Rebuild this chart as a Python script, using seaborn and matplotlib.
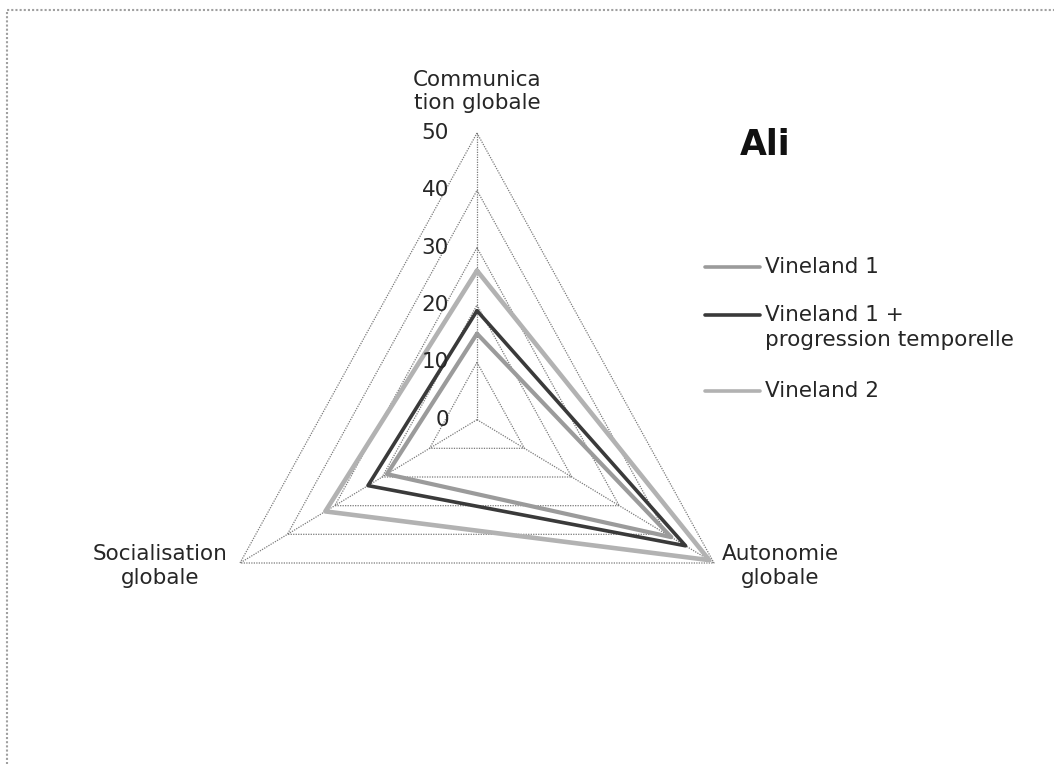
import numpy as np
import pandas as pd
import matplotlib
matplotlib.use("Agg")
import matplotlib.pyplot as plt
from matplotlib.lines import Line2D
from matplotlib.patches import Rectangle
import seaborn as sns

# Radar chart data: three Vineland scores per domain
categories = ["Communica\ntion globale", "Autonomie\nglobale", "Socialisation\nglobale"]
series_names = ["Vineland 1", "Vineland 1 +\nprogression temporelle", "Vineland 2"]
vineland1 = [15, 41, 19]
vineland1_prog = [19, 44, 23]
vineland2 = [26, 49, 32]
ticks = [0, 10, 20, 30, 40, 50]
title = "Ali"

sns.set_theme(style="white")
plt.rcParams["font.family"] = ["DejaVu Sans"]

FS = 15.5
TXT = "#262626"
W, H = 1054, 764
fig = plt.figure(figsize=(W / 100, H / 100), dpi=100)
vmax = ticks[-1]
half_w = vmax * np.cos(np.radians(30))
ax = fig.add_axes([240 / W, (H - 563) / H, 474 / W, 430 / H])

n = len(categories)
theta = np.radians(90 - 360 / n * np.arange(n))


def to_xy(vals):
    v = np.asarray(vals, dtype=float)
    v = np.append(v, v[0])
    t = np.append(theta, theta[0])
    return v * np.cos(t), v * np.sin(t)


# grid triangles and spokes
grid_color = "#7a7a7a"
for t in ticks[1:]:
    gx, gy = to_xy([t] * n)
    ax.plot(gx, gy, color=grid_color, lw=0.9, ls=(0, (1, 1)), clip_on=False, zorder=1)
for th in theta:
    ax.plot([0, vmax * np.cos(th)], [0, vmax * np.sin(th)], color=grid_color,
            lw=0.9, ls=(0, (1, 1)), clip_on=False, zorder=1)

# series polygons
frames = []
for name, vals in zip(series_names, [vineland1, vineland1_prog, vineland2]):
    x, y = to_xy(vals)
    frames.append(pd.DataFrame({"x": x, "y": y, "serie": name}))
df = pd.concat(frames, ignore_index=True)
palette = {series_names[0]: "#9b9b9b", series_names[1]: "#3a3a3a", series_names[2]: "#b2b2b2"}
widths = {series_names[0]: 3.0, series_names[1]: 2.6, series_names[2]: 3.3}
for name in [series_names[2], series_names[0], series_names[1]]:
    sub = df[df["serie"] == name]
    sns.lineplot(data=sub, x="x", y="y", sort=False, estimator=None, color=palette[name],
                 lw=widths[name], ax=ax, legend=False, clip_on=False, zorder=3)
ax.set_xlim(-half_w, half_w)
ax.set_ylim(-vmax / 2, vmax)
ax.axis("off")

# radial tick labels along the top spoke
for t in ticks:
    ax.annotate(str(t), (0, t), xytext=(-28, 0), textcoords="offset pixels",
                ha="right", va="center", fontsize=FS, color=TXT)

# category labels
txt_kw = dict(fontsize=FS, color=TXT, linespacing=1.2, multialignment="center",
              textcoords="offset pixels", annotation_clip=False)
ax.annotate(categories[0], (0, vmax), xytext=(0, 20), ha="center", va="bottom", **txt_kw)
ax.annotate(categories[1], (vmax * np.cos(theta[1]), vmax * np.sin(theta[1])),
            xytext=(8, -3), ha="left", va="center", **txt_kw)
ax.annotate(categories[2], (vmax * np.cos(theta[2]), vmax * np.sin(theta[2])),
            xytext=(-12, -3), ha="right", va="center", **txt_kw)

# title
fig.text(765 / W, 1 - 145 / H, title, fontsize=25, fontweight="bold", color="#111111",
         ha="center", va="center")

# legend
leg_rows = [267, 315, 391]
for name, yy in zip(series_names, leg_rows):
    fig.add_artist(Line2D([705 / W, 760 / W], [1 - yy / H, 1 - yy / H],
                          color=palette[name], lw=2.6, transform=fig.transFigure))
    first, *rest = name.split("\n")
    fig.text(765 / W, 1 - yy / H, first, fontsize=FS, color=TXT, ha="left", va="center")
    for k, line in enumerate(rest, start=1):
        fig.text(765 / W, 1 - (yy + 25 * k) / H, line, fontsize=FS, color=TXT,
                 ha="left", va="center")

# chart border
fig.add_artist(Rectangle((7 / W, -0.02), 1.05, 1 - 10 / H + 0.02, transform=fig.transFigure,
                         fill=False, ec="#a0a0a0", lw=1.5, ls=(0, (1, 1))))

fig.savefig("out.png", dpi=100)
